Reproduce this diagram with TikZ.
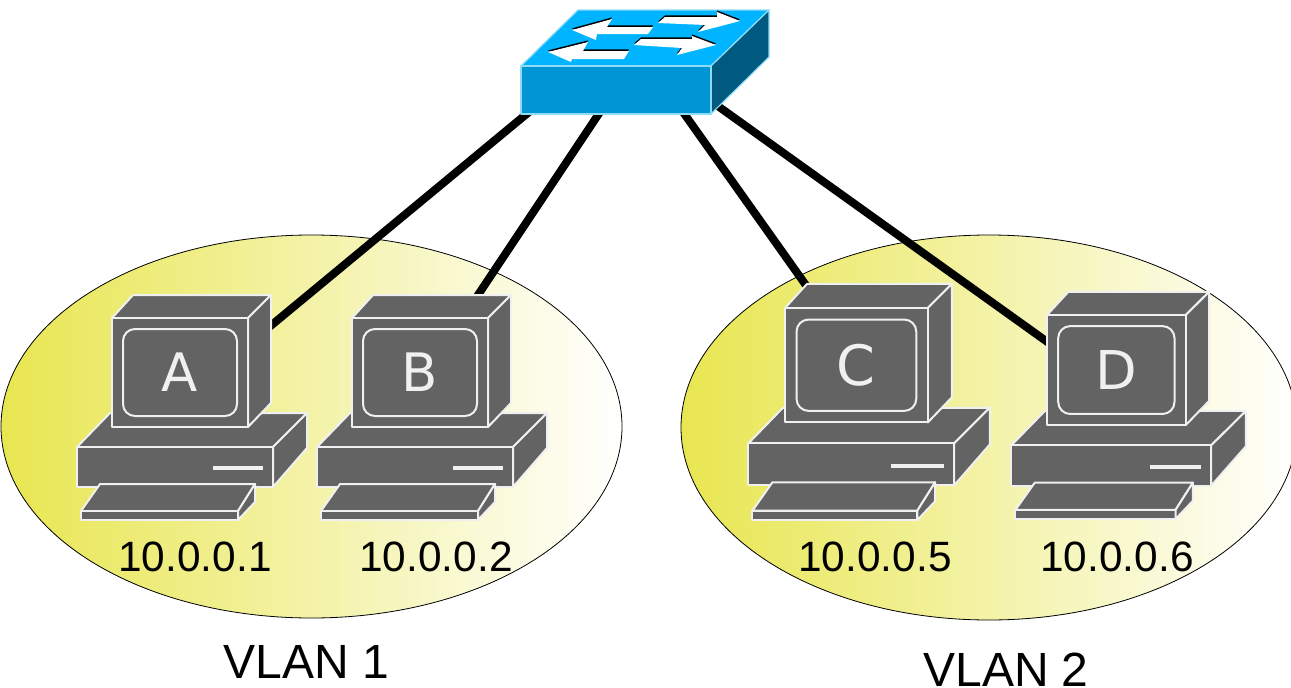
\documentclass[tikz,border=0pt]{standalone}
\usepackage{fontspec}
\setmainfont{Liberation Sans}
\newfontfamily\letterfont{DejaVu Sans}
\usetikzlibrary{shapes.geometric}
\definecolor{pcgrey}{HTML}{636363}
\definecolor{pcline}{HTML}{F0F0F0}
\definecolor{vlanyellow}{HTML}{E8E650}
\definecolor{swtop}{HTML}{00B4FF}
\definecolor{swfront}{HTML}{0095D5}
\definecolor{swside}{HTML}{005A80}
\definecolor{swedge}{HTML}{8FDCF8}
\tikzset{
  x=1pt,y=-1pt,
  vlan/.style={ellipse,draw=black,line width=0.8pt,left color=vlanyellow,right color=white,inner sep=0pt},
  link/.style={draw=black,line width=8pt},
  pcface/.style={fill=pcgrey,draw=pcline,line width=2pt,line join=round},
  screenbox/.style={rectangle,rounded corners=12pt,draw=pcline,line width=2pt,text=pcline,
    minimum width=114pt,minimum height=87pt,inner sep=0pt,transform shape,font=\letterfont\fontsize{53}{53}\selectfont},
  ipl/.style={font=\fontsize{42.4}{42.4}\selectfont,inner sep=0pt},
  vlanl/.style={font=\fontsize{48}{48}\selectfont,inner sep=0pt},
  swface/.style={draw=swedge,line width=1.2pt,line join=round},
  swarrow/.style={fill=white,draw=none},
  swshadow/.style={fill=black,draw=none,yshift=1.6pt},
}
\newcommand{\pcunit}[6]{%
  \begin{scope}[shift={(#1,#2)},xscale=#3,yscale=#4]
    \path[pcface] (-35,129) -- (-2,95) -- (195,95) -- (161,129) -- cycle;
    \path[pcface] (-35,129) rectangle (161,169);
    \path[pcface] (161,129) -- (195,95) -- (195,130) -- (161,169) -- cycle;
    \draw[pcline,line width=4pt] (101,150) -- (151,150);
    \path[pcface] (-12,166) -- (143,166) -- (126,193) -- (-31,193) -- cycle;
    \path[pcface] (-31,193) rectangle (126,202);
    \path[pcface] (126,193) -- (143,166) -- (143,184) -- (126,202) -- cycle;
    \path[pcface] (0,0) -- (21,-23) -- (159,-23) -- (136,0) -- cycle;
    \path[pcface] (136,0) -- (159,-23) -- (159,85) -- (136,109) -- cycle;
    \path[pcface] (0,0) rectangle (136,109);
    \node[screenbox] (#5) at (68,54.5) {#6};
  \end{scope}}
\newcommand{\swarrowshape}[2]{\path[#1] #2 -- cycle;}
\begin{document}
\begin{tikzpicture}
  \useasboundingbox (0,0) rectangle (1291,688);
  % link ends
  \coordinate (swa) at (535,107);
  \coordinate (swb) at (604,106);
  \coordinate (swc) at (678,105);
  \coordinate (swd) at (715,104);
  \coordinate (pa) at (262,333);
  \coordinate (pb) at (470,307);
  \coordinate (pc) at (815,298);
  \coordinate (pd) at (1060,351);
  % VLAN areas
  \node[vlan,minimum width=621pt,minimum height=383pt] (v1) at (311.5,426.5) {};
  \node[vlan,minimum width=616pt,minimum height=385pt] (v2) at (989,427.5) {};
  % links
  \draw[link] (swa) -- (pa);
  \draw[link] (swb) -- (pb);
  \draw[link] (swc) -- (pc);
  \draw[link] (swd) -- (pd);
  % computers
  \pcunit{112}{318}{1}{1}{A}{A}
  \pcunit{352}{318}{1}{1}{B}{B}
  \pcunit{785}{308}{1.05}{1.05}{C}{C}
  \pcunit{1047}{315}{1.02}{1.01}{D}{D}
  % switch
  \path[swface,fill=swtop] (521,66) -- (578,10) -- (769,10) -- (711,66) -- cycle;
  \path[swface,fill=swside] (711,66) -- (769,10) -- (769,57) -- (711,114) -- cycle;
  \node[swface,fill=swfront,rectangle,minimum width=190pt,minimum height=48pt,inner sep=0pt] (sw) at (616,90) {};
  \foreach \st in {swshadow,swarrow}{
    \swarrowshape{\st}{(572,30) -- (612,19) -- (607,27) -- (653,27) -- (648,34) -- (597,34) -- (596,40)}
    \swarrowshape{\st}{(548,52) -- (588,42) -- (583,51) -- (629,51) -- (624,59) -- (572,59) -- (571,62)}
    \swarrowshape{\st}{(658,23) -- (665,17) -- (717,17) -- (717,12) -- (740,21) -- (698,32) -- (705,25)}
    \swarrowshape{\st}{(634,45) -- (641,39) -- (692,39) -- (692,36) -- (716,45) -- (677,55) -- (682,48)}
  }
  % labels
  \node[ipl] (ipa) at (195,557) {10.0.0.1};
  \node[ipl] (ipb) at (436,557) {10.0.0.2};
  \node[ipl] (ipc) at (875,557) {10.0.0.5};
  \node[ipl] (ipd) at (1117,557) {10.0.0.6};
  \node[vlanl] (la) at (306.5,662) {VLAN 1};
  \node[vlanl] (lb) at (1006,670) {VLAN 2};
\end{tikzpicture}
\end{document}
